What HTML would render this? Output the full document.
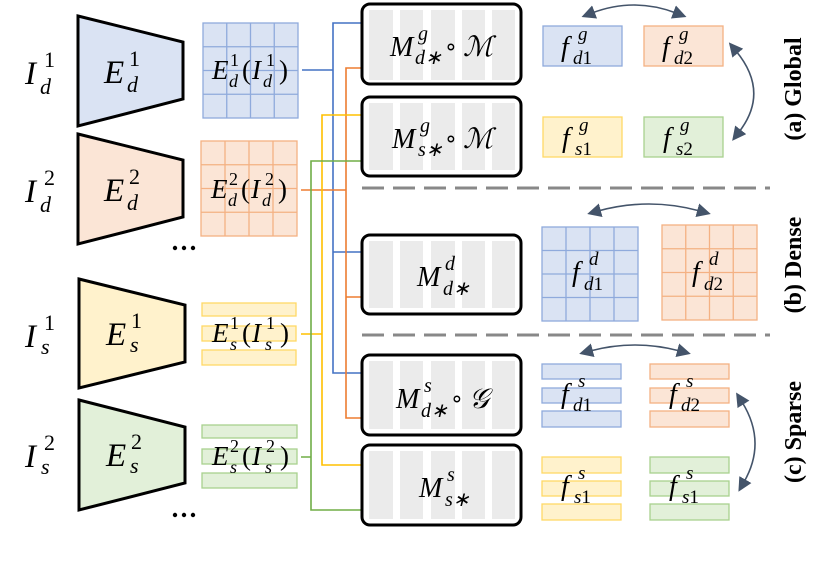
<!DOCTYPE html>
<html><head><meta charset="utf-8"><style>
html,body{margin:0;padding:0;background:#fff}
svg{display:block}
text{font-family:"Liberation Serif",serif}
.m{font-style:italic}
</style></head><body>
<svg width="830" height="563" viewBox="0 0 830 563" xmlns="http://www.w3.org/2000/svg">
<defs>
<marker id="ah" viewBox="0 0 10 10" refX="2" refY="5" markerWidth="14" markerHeight="14" markerUnits="userSpaceOnUse" orient="auto-start-reverse">
<path d="M0,0 L10,5 L0,10 z" fill="#44546a"/>
</marker>
</defs>

<polygon points="78,16 183,42 183,99 78,126" fill="#dae3f3" stroke="#000" stroke-width="3"/>
<polygon points="78,134 183,160 183,217 78,244" fill="#fbe5d6" stroke="#000" stroke-width="3"/>
<polygon points="79,279 185,305 185,362 79,388" fill="#fff2cc" stroke="#000" stroke-width="3"/>
<polygon points="79,400 185,427 185,483 79,510" fill="#e2f0d9" stroke="#000" stroke-width="3"/>

<g font-size="33">
<text x="25" y="84" class="m">I</text><text x="44" y="67" font-size="22">1</text><text x="40" y="94" font-size="22" class="m">d</text>
<text x="25" y="202" class="m">I</text><text x="44" y="185" font-size="22">2</text><text x="40" y="212" font-size="22" class="m">d</text>
<text x="25" y="347" class="m">I</text><text x="44" y="330" font-size="22">1</text><text x="41" y="354" font-size="22" class="m">s</text>
<text x="25" y="467" class="m">I</text><text x="44" y="450" font-size="22">2</text><text x="41" y="474" font-size="22" class="m">s</text>
</g>
<g font-size="33">
<text x="104" y="83" class="m">E</text><text x="129" y="66" font-size="22">1</text><text x="127" y="92" font-size="22" class="m">d</text>
<text x="104" y="201" class="m">E</text><text x="129" y="184" font-size="22">2</text><text x="127" y="210" font-size="22" class="m">d</text>
<text x="106" y="345" class="m">E</text><text x="131" y="328" font-size="22">1</text><text x="130" y="352" font-size="22" class="m">s</text>
<text x="106" y="466" class="m">E</text><text x="131" y="449" font-size="22">2</text><text x="130" y="473" font-size="22" class="m">s</text>
</g>

<g fill="#000"><circle cx="175" cy="248" r="2.2"/><circle cx="184" cy="248" r="2.2"/><circle cx="193" cy="248" r="2.2"/>
<circle cx="175" cy="515" r="2.2"/><circle cx="184" cy="515" r="2.2"/><circle cx="193" cy="515" r="2.2"/></g>

<g stroke="#8faadc" stroke-width="1.3" fill="#dae3f3">
<rect x="203" y="23" width="95" height="95"/>
<path d="M226.75,23V118M250.5,23V118M274.25,23V118M203,46.75H298M203,70.5H298M203,94.25H298" fill="none"/>
</g>
<g stroke="#f4b183" stroke-width="1.3" fill="#fbe5d6">
<rect x="201" y="141" width="96" height="95"/>
<path d="M225,141V236M249,141V236M273,141V236M201,164.75H297M201,188.5H297M201,212.25H297" fill="none"/>
</g>
<g fill="#fff2cc" stroke="#ffd966" stroke-width="1.3">
<rect x="202" y="303" width="94" height="13"/><rect x="202" y="326" width="94" height="15"/><rect x="202" y="350" width="94" height="15"/>
</g>
<g fill="#e2f0d9" stroke="#a9d18e" stroke-width="1.3">
<rect x="202" y="425" width="95" height="13"/><rect x="202" y="449" width="95" height="15"/><rect x="202" y="473" width="95" height="15"/>
</g>

<g font-size="27">
<text x="212" y="79" class="m">E</text><text x="230" y="66" font-size="18">1</text><text x="229" y="87" font-size="18" class="m">d</text><text x="242" y="79">(</text><text x="252" y="79" class="m">I</text><text x="266" y="66" font-size="18">1</text><text x="263" y="87" font-size="18" class="m">d</text><text x="279" y="79">)</text>
<text x="211" y="198" class="m">E</text><text x="229" y="185" font-size="18">2</text><text x="228" y="206" font-size="18" class="m">d</text><text x="241" y="198">(</text><text x="251" y="198" class="m">I</text><text x="265" y="185" font-size="18">2</text><text x="262" y="206" font-size="18" class="m">d</text><text x="278" y="198">)</text>
<text x="212" y="342" class="m">E</text><text x="230" y="329" font-size="18">1</text><text x="230" y="350" font-size="18" class="m">s</text><text x="242" y="342">(</text><text x="252" y="342" class="m">I</text><text x="266" y="329" font-size="18">1</text><text x="265" y="350" font-size="18" class="m">s</text><text x="280" y="342">)</text>
<text x="212" y="465" class="m">E</text><text x="230" y="452" font-size="18">2</text><text x="230" y="473" font-size="18" class="m">s</text><text x="242" y="465">(</text><text x="252" y="465" class="m">I</text><text x="266" y="452" font-size="18">2</text><text x="265" y="473" font-size="18" class="m">s</text><text x="280" y="465">)</text>
</g>

<g fill="none" stroke-width="1.6">
<path d="M302,70H333M362,23H333V373H362M333,252H362" stroke="#4472c4"/>
<path d="M301,190H346M362,68H346V418H362M346,297H362" stroke="#ed7d31"/>
<path d="M301,334H322M362,115H322V465H362" stroke="#ffc000"/>
<path d="M301,457H311M362,161H311V510H362" stroke="#70ad47"/>
</g>

<g>
<rect x="362" y="4" width="159" height="80" rx="8" fill="#fff" stroke="#000" stroke-width="3"/>
<rect x="362" y="97" width="159" height="79" rx="8" fill="#fff" stroke="#000" stroke-width="3"/>
<rect x="362" y="235" width="159" height="79" rx="8" fill="#fff" stroke="#000" stroke-width="3"/>
<rect x="362" y="355" width="159" height="80" rx="8" fill="#fff" stroke="#000" stroke-width="3"/>
<rect x="362" y="445" width="159" height="80" rx="8" fill="#fff" stroke="#000" stroke-width="3"/>
</g>
<g fill="#ebebeb">
<path d="M369,10h24v70h-24zM400,10h23v70h-23zM431,10h24v70h-24zM462,10h23v70h-23zM492,10h23v70h-23z"/>
<path d="M369,103h24v67h-24zM400,103h23v67h-23zM431,103h24v67h-24zM462,103h23v67h-23zM492,103h23v67h-23z"/>
<path d="M369,241h24v67h-24zM400,241h23v67h-23zM431,241h24v67h-24zM462,241h23v67h-23zM492,241h23v67h-23z"/>
<path d="M369,361h24v68h-24zM400,361h23v68h-23zM431,361h24v68h-24zM462,361h23v68h-23zM492,361h23v68h-23z"/>
<path d="M369,451h24v68h-24zM400,451h23v68h-23zM431,451h24v68h-24zM462,451h23v68h-23zM492,451h23v68h-23z"/>
</g>
<g font-size="28">
<text x="390" y="56" class="m">M</text><text x="418" y="40" font-size="20" class="m">g</text><text x="415" y="64" font-size="20" class="m">d∗</text><text x="444" y="54" font-size="22">∘</text><text x="463" y="56" class="m">ℳ</text>
<text x="392" y="148" class="m">M</text><text x="420" y="132" font-size="20" class="m">g</text><text x="418" y="156" font-size="20" class="m">s∗</text><text x="444" y="146" font-size="22">∘</text><text x="463" y="148" class="m">ℳ</text>
<text x="417" y="286" class="m">M</text><text x="445" y="270" font-size="20" class="m">d</text><text x="443" y="295" font-size="20" class="m">d∗</text>
<text x="396" y="408" class="m">M</text><text x="424" y="392" font-size="20" class="m">s</text><text x="421" y="417" font-size="20" class="m">d∗</text><text x="450" y="406" font-size="22">∘</text><text x="469" y="408" class="m">𝒢</text>
<text x="419" y="497" class="m">M</text><text x="447" y="481" font-size="20" class="m">s</text><text x="445" y="506" font-size="20" class="m">s∗</text>
</g>

<g stroke="#888" stroke-width="3" stroke-dasharray="22,9">
<path d="M362,188H770"/><path d="M362,335H770"/>
</g>

<rect x="543" y="26" width="79" height="40" fill="#dae3f3" stroke="#8faadc" stroke-width="1.3"/>
<rect x="644" y="26" width="79" height="40" fill="#fbe5d6" stroke="#f4b183" stroke-width="1.3"/>
<rect x="543" y="117" width="79" height="40" fill="#fff2cc" stroke="#ffd966" stroke-width="1.3"/>
<rect x="644" y="117" width="79" height="40" fill="#e2f0d9" stroke="#a9d18e" stroke-width="1.3"/>

<g stroke="#8faadc" stroke-width="1.3" fill="#dae3f3">
<rect x="542" y="227" width="96" height="94"/>
<path d="M566,227V321M590,227V321M614,227V321M542,250.5H638M542,274H638M542,297.5H638" fill="none"/>
</g>
<g stroke="#f4b183" stroke-width="1.3" fill="#fbe5d6">
<rect x="662" y="225" width="95" height="95"/>
<path d="M685.75,225V320M709.5,225V320M733.25,225V320M662,248.75H757M662,272.5H757M662,296.25H757" fill="none"/>
</g>

<g fill="#dae3f3" stroke="#8faadc" stroke-width="1.3">
<rect x="542" y="364" width="79" height="15"/><rect x="542" y="388" width="79" height="15"/><rect x="542" y="411" width="79" height="16"/>
</g>
<g fill="#fbe5d6" stroke="#f4b183" stroke-width="1.3">
<rect x="650" y="364" width="79" height="15"/><rect x="650" y="388" width="79" height="15"/><rect x="650" y="411" width="79" height="16"/>
</g>
<g fill="#fff2cc" stroke="#ffd966" stroke-width="1.3">
<rect x="542" y="457" width="79" height="16"/><rect x="542" y="481" width="79" height="15"/><rect x="542" y="504" width="79" height="16"/>
</g>
<g fill="#e2f0d9" stroke="#a9d18e" stroke-width="1.3">
<rect x="650" y="457" width="79" height="16"/><rect x="650" y="481" width="79" height="15"/><rect x="650" y="504" width="79" height="16"/>
</g>

<g font-size="28">
<text x="561" y="56" class="m">f</text><text x="578" y="40" font-size="19" class="m">g</text><text x="573" y="64" font-size="19"><tspan class="m">d</tspan>1</text>
<text x="662" y="56" class="m">f</text><text x="679" y="40" font-size="19" class="m">g</text><text x="674" y="64" font-size="19"><tspan class="m">d</tspan>2</text>
<text x="562" y="147" class="m">f</text><text x="579" y="131" font-size="19" class="m">g</text><text x="575" y="155" font-size="19"><tspan class="m">s</tspan>1</text>
<text x="663" y="147" class="m">f</text><text x="680" y="131" font-size="19" class="m">g</text><text x="676" y="155" font-size="19"><tspan class="m">s</tspan>2</text>

<text x="572" y="281" class="m">f</text><text x="589" y="265" font-size="19" class="m">d</text><text x="584" y="290" font-size="19"><tspan class="m">d</tspan>1</text>
<text x="692" y="281" class="m">f</text><text x="709" y="265" font-size="19" class="m">d</text><text x="704" y="290" font-size="19"><tspan class="m">d</tspan>2</text>

<text x="561" y="403" class="m">f</text><text x="578" y="387" font-size="19" class="m">s</text><text x="573" y="411" font-size="19"><tspan class="m">d</tspan>1</text>
<text x="669" y="403" class="m">f</text><text x="686" y="387" font-size="19" class="m">s</text><text x="681" y="411" font-size="19"><tspan class="m">d</tspan>2</text>
<text x="561" y="495" class="m">f</text><text x="578" y="479" font-size="19" class="m">s</text><text x="574" y="503" font-size="19"><tspan class="m">s</tspan>1</text>
<text x="669" y="495" class="m">f</text><text x="686" y="479" font-size="19" class="m">s</text><text x="682" y="503" font-size="19"><tspan class="m">s</tspan>1</text>
</g>

<g fill="none" stroke="#44546a" stroke-width="1.6" marker-start="url(#ah)" marker-end="url(#ah)">
<path d="M592,13 Q634,-3 676,13"/>
<path d="M736,51 Q770,92 739,132"/>
<path d="M598,211 Q649,197 700,211"/>
<path d="M590,351 Q635,339 680,351"/>
<path d="M742,402 Q767,442 744,482"/>
</g>

<g font-size="24" font-weight="bold" text-anchor="middle">
<text transform="translate(801,89) rotate(-90)">(a) Global</text>
<text transform="translate(801,265) rotate(-90)">(b) Dense</text>
<text transform="translate(801,432) rotate(-90)">(c) Sparse</text>
</g>
</svg>
</body></html>
